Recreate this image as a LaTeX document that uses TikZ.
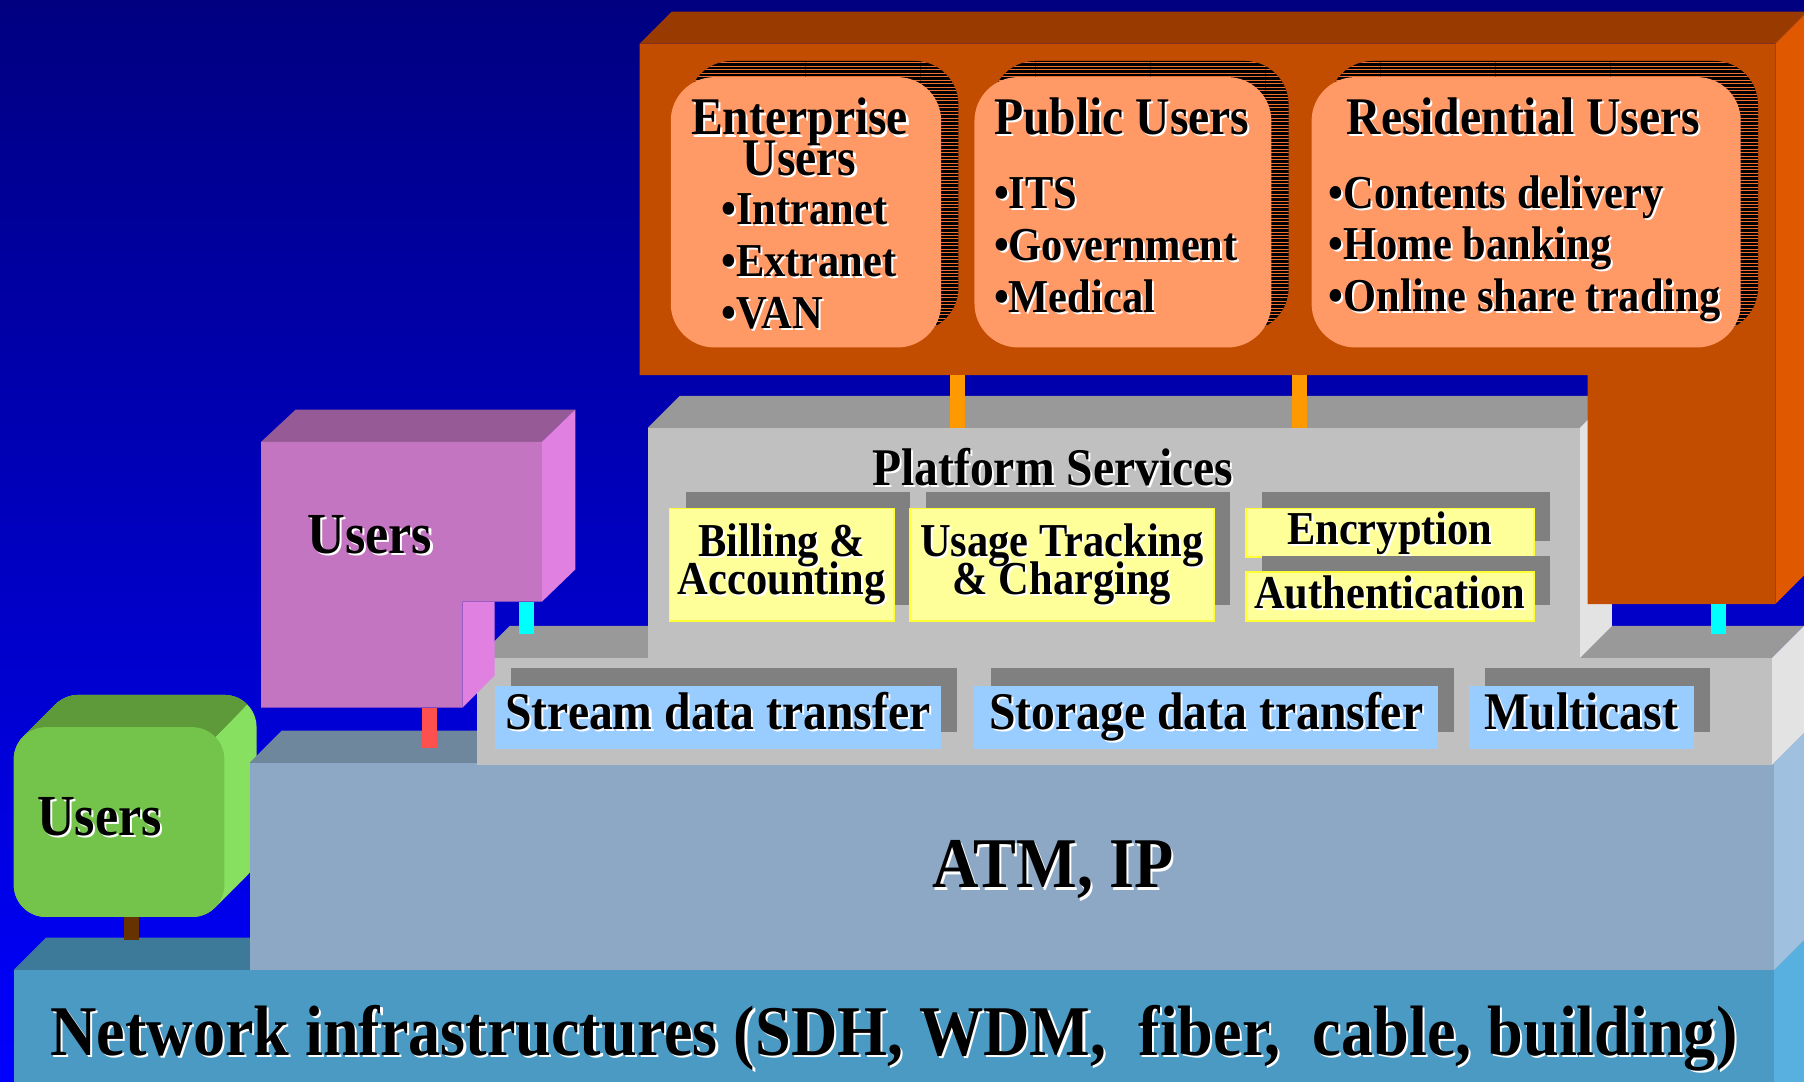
\documentclass[tikz,border=0pt]{standalone}
\usepackage{fontspec}
\setmainfont{Liberation Serif}[FakeStretch=0.9]
\usetikzlibrary{shadows,patterns}
\definecolor{bgtop}{HTML}{000080}
\definecolor{bgbot}{HTML}{0000FF}
\definecolor{nettop}{HTML}{3D7A9A}
\definecolor{netfront}{HTML}{4A9AC4}
\definecolor{netside}{HTML}{58B0E0}
\definecolor{atmtop}{HTML}{6E879C}
\definecolor{atmfront}{HTML}{8CA8C4}
\definecolor{atmside}{HTML}{A0C0E0}
\definecolor{grtop}{HTML}{999999}
\definecolor{grfront}{HTML}{C0C0C0}
\definecolor{grside}{HTML}{E3E3E3}
\definecolor{shgrey}{HTML}{808080}
\definecolor{yfill}{HTML}{FFFF99}
\definecolor{yborder}{HTML}{FFFF33}
\definecolor{lblue}{HTML}{99CCFF}
\definecolor{otop}{HTML}{993A00}
\definecolor{ofront}{HTML}{C24C00}
\definecolor{oside}{HTML}{E05800}
\definecolor{salmon}{HTML}{FF9966}
\definecolor{stripe}{HTML}{F07030}
\definecolor{pktop}{HTML}{965A96}
\definecolor{pkfront}{HTML}{C475C1}
\definecolor{pkside}{HTML}{E080E0}
\definecolor{gntop}{HTML}{5E9A3A}
\definecolor{gnfront}{HTML}{74C44C}
\definecolor{gnside}{HTML}{88E060}
\definecolor{conorange}{HTML}{FF9900}
\definecolor{concyan}{HTML}{00FFFF}
\definecolor{conred}{HTML}{FF5050}
\definecolor{conbrown}{HTML}{663300}
\newcommand\shtx[1]{\leavevmode\rlap{\kern1.8pt\raisebox{-1.8pt}{\color{white}#1}}#1}
\newcommand\fntNet{\bfseries\fontsize{62}{62}\selectfont}
\newcommand\fntUsr{\bfseries\fontsize{50.5}{50}\selectfont}
\newcommand\fntHead{\bfseries\fontsize{46}{35}\selectfont\lineskiplimit=-100pt\relax}
\newcommand\fntItem{\bfseries\fontsize{41}{45}\selectfont\lineskiplimit=-100pt\relax}
\newcommand\fntSvc{\bfseries\fontsize{41}{33}\selectfont\lineskiplimit=-100pt\relax}
\begin{document}
\begin{tikzpicture}[x=1pt,y=-1pt,
  conn/.style={line width=13pt},
  lbl/.style={inner sep=0pt, outer sep=0pt},
  ybox/.style={fill=yfill, draw=yborder, line width=1.5pt, inner sep=0pt, align=center, font=\fntSvc,
    general shadow={fill=shgrey, draw=none, shadow xshift=14pt, shadow yshift=14pt}},
  tbox/.style={fill=lblue, inner sep=0pt, font=\fntHead, text height=31pt, text depth=10pt,
    general shadow={fill=shgrey, draw=none, shadow xshift=14pt, shadow yshift=15pt}},
  sbox/.style={fill=salmon, rounded corners=38pt, inner sep=0pt,
    general shadow={fill=black, draw=none, shadow xshift=15pt, shadow yshift=14pt},
    general shadow={pattern=horizontal lines, pattern color=stripe, draw=none, shadow xshift=15pt, shadow yshift=14pt}}]
\useasboundingbox (0,0) rectangle (1568,940);
\shade[top color=bgtop, bottom color=bgbot] (0,0) rectangle (1568,940);

% ---------- network infrastructure block
\coordinate (ndeck) at (0,817);
\fill[nettop] (12,843) -- (40,815) -- (1572,815) -- (1544,843) -- cycle;
\fill[netside] (1542,843) -- (1570,815) -- (1570,945) -- (1542,945) -- cycle;
\fill[netfront] (12,843) rectangle (1542,945);

% ---------- green users box
\coordinate (gnw) at (12,632);
\coordinate (gse) at (195,797);
\foreach \t in {0,1,...,28}
  \fill[gnside, rounded corners=28pt] ([shift={(\t,-\t)}]gnw) rectangle ([shift={(\t,-\t)}]gse);
\begin{scope}
  \clip (0,0) -- (827,0) -- (0,827) -- cycle;
  \foreach \t in {0,1,...,28}
    \fill[gntop, rounded corners=28pt] ([shift={(\t,-\t)}]gnw) rectangle ([shift={(\t,-\t)}]gse);
\end{scope}
\fill[gnfront, rounded corners=28pt] (gnw) rectangle (gse);
\coordinate (gcon) at (114.5,797);

% ---------- ATM block
\coordinate (adeck) at (0,650);
\fill[atmtop] (217,663) -- (245,635) -- (1570,635) -- (1542,663) -- cycle;
\fill[atmside] (1542,663) -- (1570,635) -- (1570,815) -- (1542,843) -- cycle;
\fill[atmfront] (217,663) rectangle (1542,843);

% ---------- transfer block
\coordinate (mdeck) at (0,551);
\fill[grtop] (415,572) -- (443,544) -- (1568,544) -- (1540,572) -- cycle;
\fill[grside] (1540,572) -- (1568,544) -- (1568,637) -- (1540,665) -- cycle;
\fill[grfront] (415,572) rectangle (1540,665);
\node[tbox, minimum width=388pt, minimum height=55pt] (stream) at (624,623.5) {\shtx{Stream data transfer}};
\node[tbox, minimum width=403pt, minimum height=55pt] (storage) at (1048.5,623.5) {\shtx{Storage data transfer}};
\node[tbox, minimum width=195pt, minimum height=55pt] (multi) at (1374.5,623.5) {\shtx{Multicast}};

% ---------- platform services block
\coordinate (pdeck) at (0,372);
\fill[grtop] (563,372) -- (591,344) -- (1401,344) -- (1373,372) -- cycle;
\fill[grside] (1373,372) -- (1401,344) -- (1401,544) -- (1373,572) -- cycle;
\fill[grfront] (563,372) rectangle (1373,572);
\node[lbl, font=\fntHead] (ptitle) at (915,407) {\shtx{Platform Services}};
\node[ybox, minimum width=195pt, minimum height=98pt] (bill) at (679.5,491) {\shtx{Billing \&}\\\shtx{Accounting}};
\node[ybox, minimum width=264pt, minimum height=98pt] (usage) at (923,491) {\shtx{Usage Tracking}\\\shtx{\& Charging}};
\node[ybox, minimum width=250pt, minimum height=42pt, text height=29pt, text depth=9pt] (enc) at (1208,463) {\shtx{Encryption}};
\node[ybox, minimum width=250pt, minimum height=43pt, text height=29pt, text depth=9pt] (auth) at (1208,518.5) {\shtx{Authentication}};

% ---------- orange users block
\fill[otop] (556,38) -- (584,10) -- (1571,10) -- (1543,38) -- cycle;
\fill[oside] (1543,38) -- (1571,10) -- (1571,497) -- (1543,525) -- cycle;
\fill[ofront] (556,38) -- (1543,38) -- (1543,525) -- (1380,525) -- (1380,326) -- (556,326) -- cycle;
\coordinate (oc1) at (832.5,326);
\coordinate (oc2) at (1129.5,326);
\coordinate (oc3) at (1493.5,525);
\node[sbox, minimum width=235pt, minimum height=235pt] (ent) at (700.5,184.5) {};
\node[sbox, minimum width=258pt, minimum height=235pt] (pub) at (976,184.5) {};
\node[sbox, minimum width=373pt, minimum height=235pt] (res) at (1326.5,184.5) {};
\node[lbl, font=\fntHead, align=center] (enth) at (695,120) {\shtx{Enterprise}\\\shtx{Users}};
\node[lbl, font=\fntItem, align=left, anchor=west] (entl) at (627,228) {\shtx{•Intranet}\\\shtx{•Extranet}\\\shtx{•VAN}};
\node[lbl, font=\fntHead, anchor=west] (pubh) at (864,102) {\shtx{Public Users}};
\node[lbl, font=\fntItem, align=left, anchor=west] (publ) at (864,214) {\shtx{•ITS}\\\shtx{•Government}\\\shtx{•Medical}};
\node[lbl, font=\fntHead] (resh) at (1324,102) {\shtx{Residential Users}};
\node[lbl, font=\fntItem, align=left, anchor=west] (resl) at (1155,217) {\shtx{•Contents delivery}\\\shtx{•Home banking}\\\shtx{•Online share trading}};

% ---------- pink users block
\fill[pktop] (227,384) -- (257,356) -- (500,356) -- (471,384) -- cycle;
\fill[pkside] (471,384) -- (500,356) -- (500,495) -- (471,523) -- cycle;
\fill[pkside] (402,523) -- (430,523) -- (430,587) -- (402,615) -- cycle;
\fill[pkfront] (227,384) -- (471,384) -- (471,523) -- (402,523) -- (402,615) -- (227,615) -- cycle;
\coordinate (pkc1) at (457.5,523);
\coordinate (pkc2) at (373.5,615);

% ---------- connectors
\draw[conn, draw=conorange] (oc1) -- (oc1 |- pdeck);
\draw[conn, draw=conorange] (oc2) -- (oc2 |- pdeck);
\draw[conn, draw=concyan] (oc3) -- (oc3 |- mdeck);
\draw[conn, draw=concyan] (pkc1) -- (pkc1 |- mdeck);
\draw[conn, draw=conred] (pkc2) -- (pkc2 |- adeck);
\draw[conn, draw=conbrown] (gcon) -- (gcon |- ndeck);

% ---------- labels
\node[lbl, font=\fntUsr] (pkusers) at (321.5,466) {\shtx{Users}};
\node[lbl, font=\fntUsr] (gnusers) at (86.5,711) {\shtx{Users}};
\node[lbl, font=\fntNet] (atmtxt) at (915,757) {\shtx{ATM, IP}};
\node[lbl, font=\fntNet] (nettxt) at (777,903) {\shtx{Network infrastructures (SDH, WDM,~~fiber,~~cable, building)}};
\end{tikzpicture}
\end{document}
